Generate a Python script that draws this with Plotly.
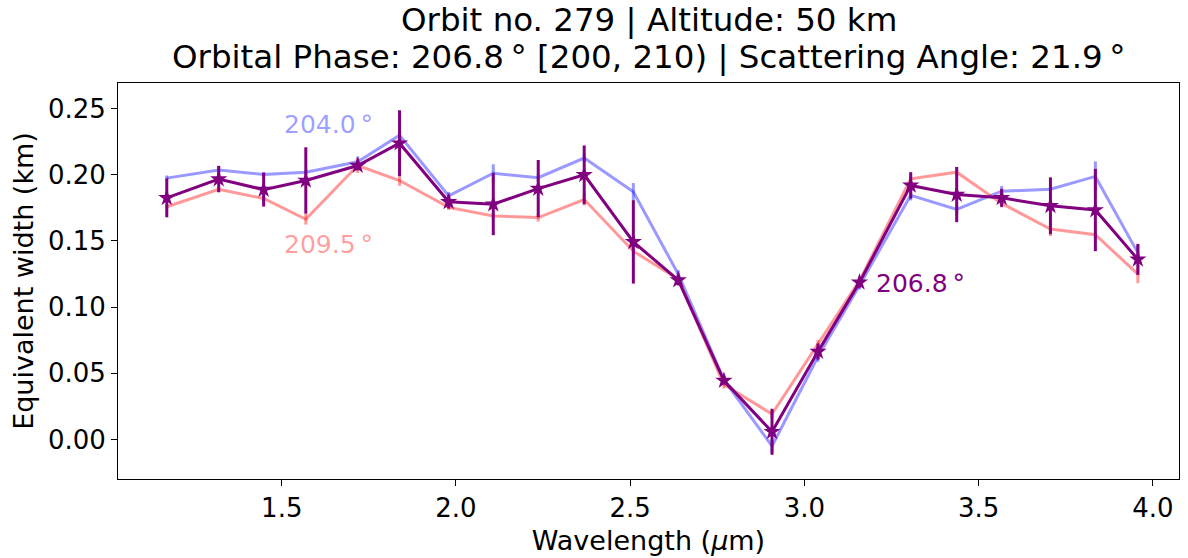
import plotly.graph_objects as go

# wavelengths (micron)
wavelength = [1.170, 1.319, 1.448, 1.569, 1.718, 1.838, 1.979, 2.107, 2.236, 2.368, 2.509,
              2.638, 2.769, 2.907, 3.039, 3.158, 3.305, 3.437, 3.566, 3.706, 3.835, 3.957]

# 204.0 deg profile (blue)
ew_204 = [0.1975, 0.2037, 0.2002, 0.2020, 0.2099, 0.2299, 0.1841, 0.2012, 0.1978, 0.2127, 0.1871,
          0.1249, 0.0450, -0.0050, 0.0627, 0.1164, 0.1846, 0.1739, 0.1876, 0.1891, 0.1988, 0.1410]
err_204 = [0.002, 0.003, 0.002, 0.002, 0.004, 0.003, 0.003, 0.0068, 0.003, 0.003, 0.0067,
           0.003, 0.003, 0.005, 0.004, 0.003, 0.004, 0.004, 0.004, 0.003, 0.0114, 0.006]

# 209.5 deg profile (red)
ew_209 = [0.1759, 0.1891, 0.1821, 0.1664, 0.2070, 0.1957, 0.1754, 0.1689, 0.1677, 0.1813, 0.1423,
          0.1211, 0.0415, 0.0192, 0.0722, 0.1199, 0.1970, 0.2020, 0.1784, 0.1590, 0.1547, 0.1249]
err_209 = [0.002, 0.002, 0.002, 0.004, 0.0056, 0.004, 0.002, 0.002, 0.003, 0.0045, 0.003,
           0.002, 0.003, 0.003, 0.003, 0.002, 0.004, 0.003, 0.003, 0.0053, 0.003, 0.0068]

# 206.8 deg profile (purple)
ew_206 = [0.1826, 0.1968, 0.1888, 0.1957, 0.2070, 0.2239, 0.1796, 0.1778, 0.1896, 0.2000, 0.1493,
          0.1204, 0.0445, 0.0058, 0.0664, 0.1187, 0.1920, 0.1851, 0.1826, 0.1766, 0.1734, 0.1361]
err_206 = [0.0147, 0.0100, 0.0128, 0.0251, 0.0037, 0.0249, 0.0050, 0.0234, 0.0216, 0.0222, 0.0315,
           0.0040, 0.0030, 0.0174, 0.0060, 0.0040, 0.0100, 0.0209, 0.0068, 0.0215, 0.0311, 0.0117]

labels = ["204.0\u2009°", "209.5\u2009°", "206.8\u2009°"]
label_x = [1.5, 1.5, 3.2]
label_y = [0.238, 0.1474, 0.118]

title_lines = ["Orbit no. 279 | Altitude: 50 km",
               "Orbital Phase: 206.8\u2009° [200, 210) | Scattering Angle: 21.9\u2009°"]

BLUE = "rgba(0,0,255,0.4)"
RED = "rgba(255,0,0,0.4)"
PURPLE = "#800080"
FONT = "DejaVu Sans"

fig = go.Figure()
fig.add_trace(go.Scatter(x=wavelength, y=ew_204, mode="lines",
                         line=dict(color=BLUE, width=3),
                         error_y=dict(type="data", array=err_204, color=BLUE, thickness=3, width=0),
                         showlegend=False))
fig.add_trace(go.Scatter(x=wavelength, y=ew_209, mode="lines",
                         line=dict(color=RED, width=3),
                         error_y=dict(type="data", array=err_209, color=RED, thickness=3, width=0),
                         showlegend=False))
fig.add_trace(go.Scatter(x=wavelength, y=ew_206, mode="lines+markers",
                         line=dict(color=PURPLE, width=3),
                         marker=dict(symbol="star", size=13, color=PURPLE),
                         error_y=dict(type="data", array=err_206, color=PURPLE, thickness=3, width=0),
                         showlegend=False))

colors = [BLUE, RED, PURPLE]
for t, x, y, c in zip(labels, label_x, label_y, colors):
    fig.add_annotation(x=x, y=y, xref="x", yref="y", text=t, showarrow=False,
                       xanchor="left", yanchor="middle",
                       font=dict(family=FONT, size=25, color=c))

title_y = [1.1596, 1.0648]
for t, y in zip(title_lines, title_y):
    fig.add_annotation(x=0.5, y=y, xref="paper", yref="paper", text=t, showarrow=False,
                       xanchor="center", yanchor="middle",
                       font=dict(family=FONT, size=32.5, color="black"))

axis_common = dict(showline=True, linecolor="black", linewidth=1, mirror=True,
                   ticks="outside", ticklen=6, tickwidth=1, tickcolor="black",
                   showgrid=False, zeroline=False,
                   tickfont=dict(family=FONT, size=26, color="black"))

fig.update_xaxes(range=[1.03, 4.075], tickvals=[1.5, 2.0, 2.5, 3.0, 3.5, 4.0],
                 ticktext=["1.5", "2.0", "2.5", "3.0", "3.5", "4.0"],
                 title=dict(text="Wavelength (<i>µ</i>m)", standoff=8,
                            font=dict(family=FONT, size=27, color="black")),
                 **axis_common)
fig.update_yaxes(range=[-0.0299, 0.2694], tickvals=[0.0, 0.05, 0.10, 0.15, 0.20, 0.25],
                 ticktext=["0.00", "0.05", "0.10", "0.15", "0.20", "0.25"],
                 title=dict(text="Equivalent width (km)", standoff=6,
                            font=dict(family=FONT, size=27, color="black")),
                 **axis_common)

fig.update_layout(width=1188, height=558, margin=dict(l=118, r=8, t=83, b=74),
                  plot_bgcolor="white", paper_bgcolor="white",
                  font=dict(family=FONT, color="black"))

fig.write_html("out.html")
